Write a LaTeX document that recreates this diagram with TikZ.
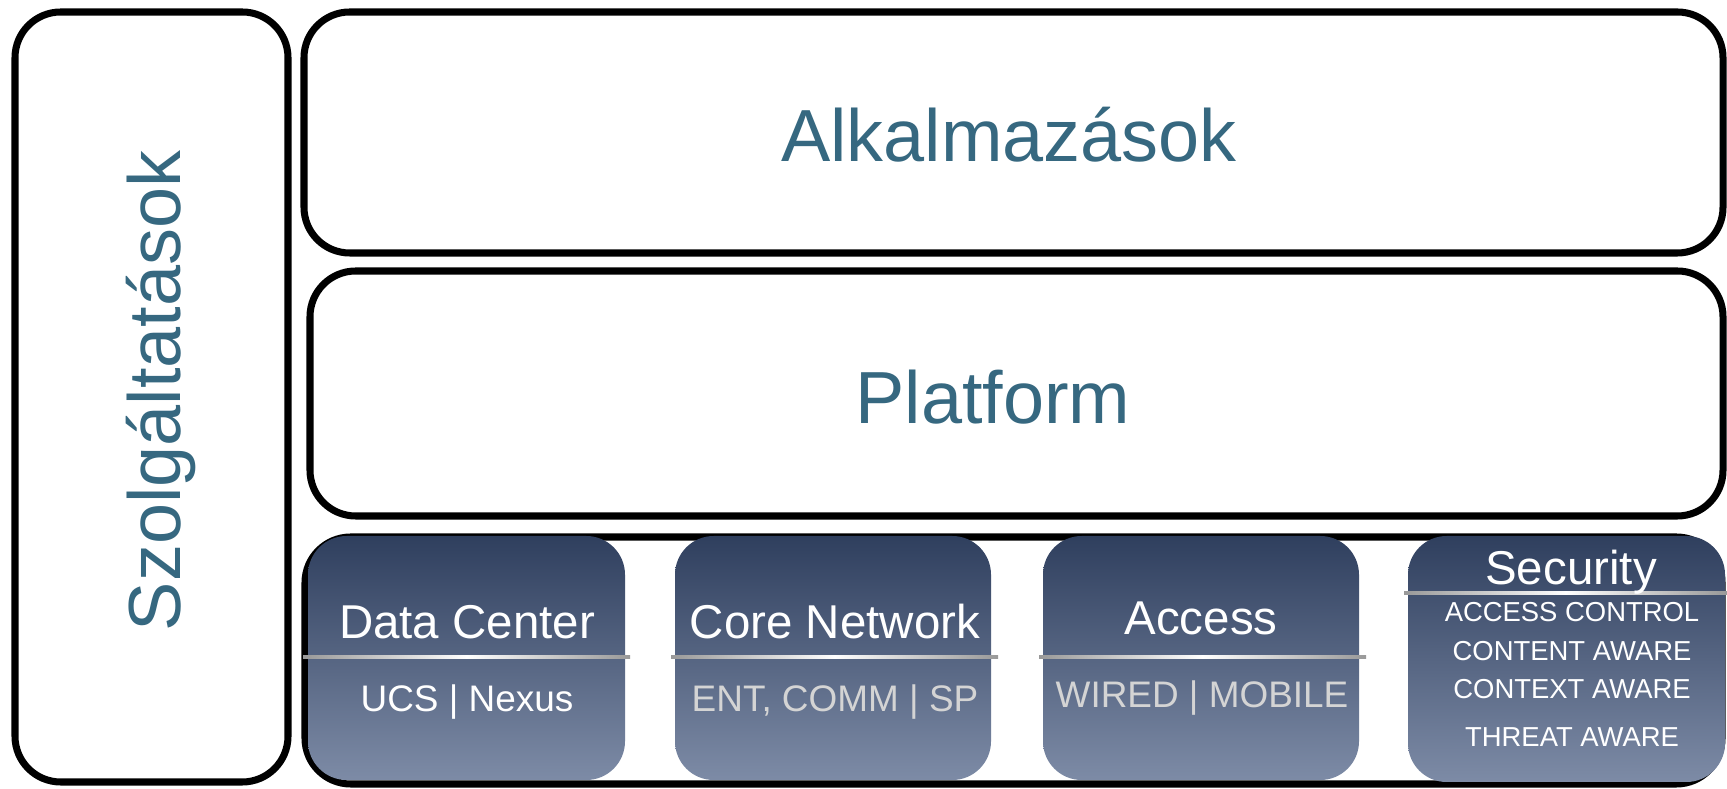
\documentclass[tikz,border=0pt]{standalone}
\usepackage{fontspec}
\setmainfont{Liberation Sans}
\usetikzlibrary{calc}
\definecolor{tealtext}{RGB}{54,104,128}
\definecolor{navytop}{RGB}{47,63,94}
\definecolor{navybot}{RGB}{125,139,166}
\definecolor{subgray}{RGB}{212,212,212}

\begin{document}
\begin{tikzpicture}[x=0.01cm,y=-0.01cm]
    \useasboundingbox (0,0) rectangle (1727,789);
    \tikzset{
      layer/.style={draw=black, line width=2pt, rounded corners=13pt, fill=white},
      block/.style={rounded corners=11pt, top color=navytop, bottom color=navybot},
      bigtext/.style={text=tealtext, font=\fontsize{21}{25}\selectfont, anchor=base, inner sep=0pt},
      headtext/.style={text=white, font=\fontsize{13.5}{16}\selectfont, anchor=base, inner sep=0pt},
      subtext/.style={text=subgray, font=\fontsize{10.5}{13}\selectfont, anchor=base, inner sep=0pt},
      listtext/.style={text=white, font=\fontsize{7.8}{9}\selectfont, anchor=base, inner sep=0pt}
    }
    % frames
    \draw[layer] (15,12) rectangle (288,782);
    \draw[layer] (304,12) rectangle (1723,253);
    \draw[layer] (310,271) rectangle (1723,516);
    \draw[layer] (305,537) rectangle (1722,784);
    % blocks
    \shade[block] (308,536) rectangle (625,780);
    \shade[block] (675,536) rectangle (991,780);
    \shade[block] (1043,536) rectangle (1359,780);
    \shade[block] (1408,536) rectangle (1725,782);
    \foreach \xa/\xb in {303/630, 671/998, 1039/1366}
      \shade[left color=gray!80, right color=gray!80, middle color=white]
        (\xa,656) rectangle (\xb,659);
    \shade[left color=gray!80, right color=gray!80, middle color=white]
      (1404,592) rectangle (1727,595);
    % labels
    \node[bigtext] (apps) at (1009,162) {Alkalmazások};
    \node[bigtext] (platform) at (993,424) {Platform};
    \node[bigtext, rotate=90] (services) at (180,391) {Szolgáltatások};
    \node[headtext] (dc) at (467,639) {Data Center};
    \node[subtext, text=white] (dcsub) at (467,712) {UCS | Nexus};
    \node[headtext] (core) at (835,639) {Core Network};
    \node[subtext] (coresub) at (835,712) {ENT, COMM | SP};
    \node[headtext] (access) at (1201,635) {Access};
    \node[subtext] (accesssub) at (1202,708) {WIRED | MOBILE};
    \node[headtext] (sec) at (1571,585) {Security};
    \node[listtext] (sec1) at (1572,622) {ACCESS CONTROL};
    \node[listtext] (sec2) at (1572,661) {CONTENT AWARE};
    \node[listtext] (sec3) at (1572,699) {CONTEXT AWARE};
    \node[listtext] (sec4) at (1572,747) {THREAT AWARE};
\end{tikzpicture}
\end{document}
